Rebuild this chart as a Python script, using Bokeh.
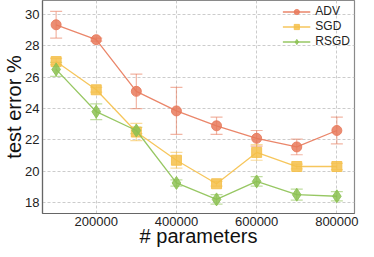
from bokeh.plotting import figure
from bokeh.models import ColumnDataSource, Whisker, TeeHead, Legend, LegendItem, FixedTicker, NumeralTickFormatter
from bokeh.embed import file_html
from bokeh.resources import INLINE

params = [100000, 200000, 300000, 400000, 500000, 600000, 700000, 800000]

adv_mean = [29.35, 28.4, 25.1, 23.85, 22.9, 22.1, 21.55, 22.6]
adv_err = [0.85, 0.1, 1.1, 1.5, 0.55, 0.5, 0.5, 0.85]

sgd_mean = [27.0, 25.2, 22.5, 20.7, 19.2, 21.2, 20.3, 20.3]
sgd_err = [0.2, 0.15, 0.55, 0.5, 0.15, 0.5, 0.15, 0.2]

rsgd_mean = [26.5, 23.8, 22.6, 19.25, 18.2, 19.35, 18.5, 18.4]
rsgd_err = [0.45, 0.5, 0.2, 0.2, 0.3, 0.3, 0.35, 0.3]

series_names = ["ADV", "SGD", "RSGD"]
colors = ["#E8795A", "#F5C04A", "#8CC152"]
markers = ["circle", "square", "diamond"]

y_ticks = [18, 20, 22, 24, 26, 28, 30]
x_ticks = [200000, 400000, 600000, 800000]

FONT = "Liberation Sans"

p = figure(width=366, height=249, output_backend="svg", toolbar_location=None,
           x_range=(66000, 844000), y_range=(17.3, 30.9),
           min_border_left=20, min_border_right=12, min_border_top=0, min_border_bottom=10)

p.background_fill_color = "white"
p.outline_line_color = "#8a8a8a"
p.outline_line_width = 1.2

p.xgrid.grid_line_color = "#cccccc"
p.ygrid.grid_line_color = "#cccccc"
p.xgrid.grid_line_dash = "3 2"
p.ygrid.grid_line_dash = "3 2"

p.xaxis.ticker = FixedTicker(ticks=x_ticks)
p.yaxis.ticker = FixedTicker(ticks=y_ticks)
p.xaxis.formatter = NumeralTickFormatter(format="0")

for ax in [p.xaxis, p.yaxis]:
    ax.axis_line_color = "#666666"
    ax.axis_line_width = 1.2
    ax.major_tick_line_color = None
    ax.minor_tick_line_color = None
    ax.major_tick_out = 0
    ax.major_tick_in = 0
    ax.minor_tick_out = 0
    ax.minor_tick_in = 0
    ax.major_label_text_font = FONT
    ax.major_label_text_font_size = "13px"
    ax.major_label_text_color = "#222222"
    ax.axis_label_text_font = FONT
    ax.axis_label_text_font_style = "normal"
    ax.axis_label_text_font_size = "20px"
    ax.axis_label_text_color = "#111111"
    ax.major_label_standoff = 3

p.xaxis.axis_label_standoff = -4
p.yaxis.axis_label_standoff = -3

p.xaxis.axis_label = "# parameters"
p.yaxis.axis_label = "test error %"

items = []
for name, mean, err, col, mk in zip(series_names, [adv_mean, sgd_mean, rsgd_mean],
                                   [adv_err, sgd_err, rsgd_err], colors, markers):
    src = ColumnDataSource(dict(x=params, y=mean,
                                lower=[m - e for m, e in zip(mean, err)],
                                upper=[m + e for m, e in zip(mean, err)]))
    w = Whisker(source=src, base="x", lower="lower", upper="upper",
                line_color=col, line_alpha=0.55, line_width=1.2,
                upper_head=TeeHead(size=12, line_color=col, line_alpha=0.55, line_width=1.2),
                lower_head=TeeHead(size=12, line_color=col, line_alpha=0.55, line_width=1.2))
    p.add_layout(w)
    ln = p.line("x", "y", source=src, line_color=col, line_width=1.3, line_alpha=0.9)
    sz = 10 if mk != "diamond" else 13
    sc = p.scatter("x", "y", source=src, marker=mk, size=sz, fill_color=col,
                   line_color=col, fill_alpha=0.85, line_alpha=0.85)
    items.append(LegendItem(label=name, renderers=[ln, sc]))

legend = Legend(items=items, location="top_right", border_line_color=None,
                background_fill_alpha=0.0, label_text_font=FONT,
                label_text_font_size="12px", label_text_color="#222222",
                glyph_width=28, glyph_height=13, label_height=13, spacing=1,
                padding=4, margin=4, label_standoff=5)
p.add_layout(legend)

open("out.html", "w").write(file_html(p, INLINE))
